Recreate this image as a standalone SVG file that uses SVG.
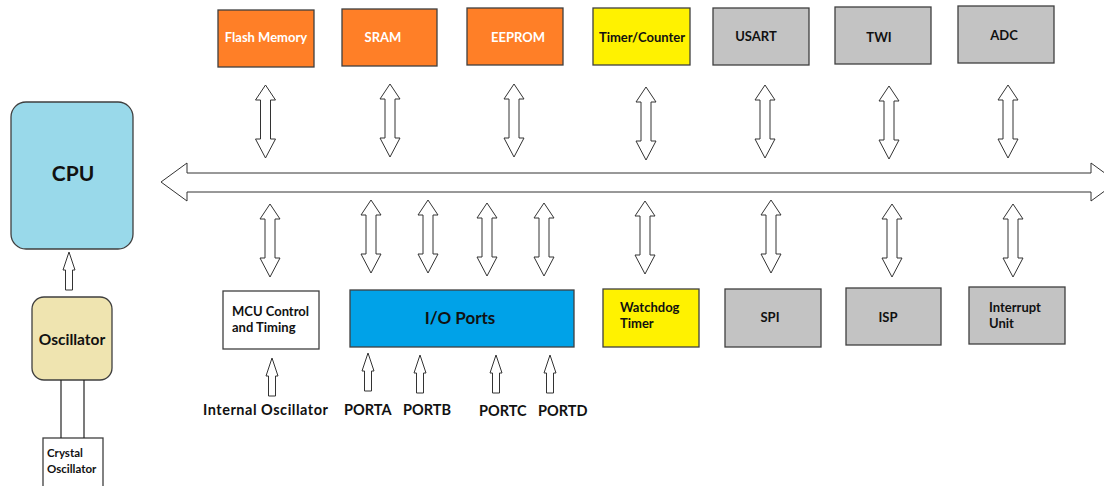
<svg xmlns="http://www.w3.org/2000/svg" xmlns:xlink="http://www.w3.org/1999/xlink" width="1104" height="486" viewBox="0 0 1104 486">
<style>
text{font-family:Lato,"Open Sans","Liberation Sans",sans-serif;font-weight:bold;}
.box{stroke:#3f3f3f;stroke-width:1.3;}
.arr{fill:#fff;stroke:#333;stroke-width:1;}
.orange{fill:#ff7f27;}
.yellow{fill:#fff200;}
.gray{fill:#c3c3c3;}
.wt{fill:#fff;font-size:13px;}
.bt{fill:#111;font-size:13px;}
.lbl{fill:#111;font-size:14.5px;}
</style>
<defs>
<path id="dbl" d="M0,0 L10,15 L5,15 L5,54 L10,54 L0,73 L-10,54 L-5,54 L-5,15 L-10,15 Z"/>
<path id="up" d="M0,0 L6,18 L3.5,18 L3.5,38 L-3.5,38 L-3.5,18 L-6,18 Z"/>
</defs>
<rect width="1104" height="486" fill="#fff"/>

<g id="cpu"><rect class="box" x="11" y="102" width="122" height="147" rx="15" fill="#99d9ea"/><text x="73" y="181" font-size="21" text-anchor="middle" fill="#111">CPU</text></g>
<g id="oscillator"><rect class="box" x="32" y="297" width="80" height="83" rx="12" fill="#efe4b0"/><text x="72" y="345" font-size="15.5" text-anchor="middle" fill="#111">Oscillator</text></g>
<g id="crystal"><rect class="box" x="43" y="438" width="60" height="60" fill="#fff"/><text x="47" y="457" font-size="11.5" fill="#111">Crystal</text><text x="47" y="473" font-size="11.5" fill="#111">Oscillator</text></g>

<g id="flash"><rect class="box orange" x="218" y="10" width="96" height="57"/><text class="wt" x="266" y="42" text-anchor="middle">Flash Memory</text></g>
<g id="sram"><rect class="box orange" x="342" y="9" width="95" height="57"/><text class="wt" x="383" y="42" text-anchor="middle">SRAM</text></g>
<g id="eeprom"><rect class="box orange" x="467" y="8" width="96" height="57"/><text class="wt" x="518" y="42" text-anchor="middle">EEPROM</text></g>
<g id="timer"><rect class="box yellow" x="593" y="8" width="97" height="57"/><text class="bt" x="642" y="42" text-anchor="middle">Timer/Counter</text></g>
<g id="usart"><rect class="box gray" x="713" y="8" width="96" height="57"/><text class="bt" x="756" y="41" text-anchor="middle">USART</text></g>
<g id="twi"><rect class="box gray" x="835" y="7" width="96" height="57"/><text class="bt" x="879" y="42" text-anchor="middle">TWI</text></g>
<g id="adc"><rect class="box gray" x="958" y="6" width="96" height="57"/><text class="bt" x="1004" y="40" text-anchor="middle">ADC</text></g>

<g id="mcu"><rect class="box" x="223" y="291" width="96" height="58" fill="#fff"/><text class="bt" x="232" y="316">MCU Control</text><text class="bt" x="232" y="332">and Timing</text></g>
<g id="io"><rect class="box" x="350" y="290" width="224" height="57" fill="#00a2e8"/><text x="460" y="324" font-size="17" text-anchor="middle" fill="#111">I/O Ports</text></g>
<g id="watchdog"><rect class="box yellow" x="603" y="289" width="96" height="58"/><text class="bt" x="620" y="312">Watchdog</text><text class="bt" x="620" y="328">Timer</text></g>
<g id="spi"><rect class="box gray" x="725" y="289" width="96" height="58"/><text class="bt" x="770" y="322" text-anchor="middle">SPI</text></g>
<g id="isp"><rect class="box gray" x="846" y="288" width="95" height="57"/><text class="bt" x="888" y="322" text-anchor="middle">ISP</text></g>
<g id="interrupt"><rect class="box gray" x="969" y="287" width="96" height="57"/><text class="bt" x="989" y="312">Interrupt</text><text class="bt" x="989" y="328">Unit</text></g>

<g id="labels">
<text class="lbl" x="203" y="415" textLength="125" lengthAdjust="spacing">Internal Oscillator</text>
<text class="lbl" x="344" y="415">PORTA</text>
<text class="lbl" x="403" y="415">PORTB</text>
<text class="lbl" x="479" y="416">PORTC</text>
<text class="lbl" x="538" y="416">PORTD</text>
</g>

<g id="connectors" class="arr">
<polygon points="161,182 187,163 187,173 1091,173 1091,163 1117,182 1091,201 1091,192 187,192 187,201"/>
<use href="#dbl" x="265.5" y="85"/>
<use href="#dbl" x="390" y="84"/>
<use href="#dbl" x="514" y="84"/>
<use href="#dbl" x="646" y="87"/>
<use href="#dbl" x="765" y="85"/>
<use href="#dbl" x="889" y="86"/>
<use href="#dbl" x="1008" y="85"/>
<use href="#dbl" x="270" y="204"/>
<use href="#dbl" x="371" y="200"/>
<use href="#dbl" x="428" y="200"/>
<use href="#dbl" x="487" y="203"/>
<use href="#dbl" x="544" y="203"/>
<use href="#dbl" x="645" y="201"/>
<use href="#dbl" x="771" y="200"/>
<use href="#dbl" x="892" y="204"/>
<use href="#dbl" x="1013" y="204"/>
<use href="#up" x="69" y="252"/>
<use href="#up" x="272" y="358"/>
<use href="#up" x="368" y="353"/>
<use href="#up" x="420" y="355"/>
<use href="#up" x="496" y="355"/>
<use href="#up" x="550" y="355"/>
<line x1="61" y1="380" x2="61" y2="438" stroke="#222" stroke-width="1.2"/>
<line x1="84" y1="380" x2="84" y2="438" stroke="#222" stroke-width="1.2"/>
</g>
</svg>
